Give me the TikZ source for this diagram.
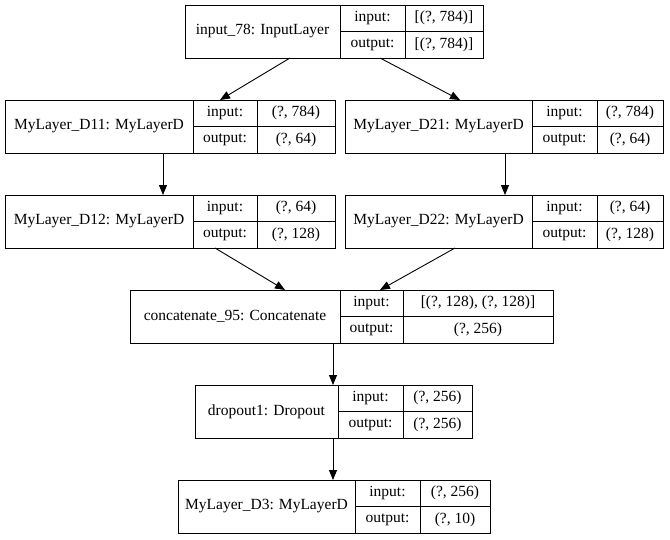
\documentclass[tikz,border=0pt]{standalone}
\usepackage{fontspec}
\setmainfont{Liberation Serif}
\usetikzlibrary{calc,arrows.meta}
\tikzset{
	box/.style={draw,inner sep=0pt,anchor=north west},
	txt/.style={font=\fontsize{15.5}{17}\selectfont,inner sep=0pt},
	edge/.style={-{Triangle[length=10pt,width=8pt]},black}
}
% \layer{name}{x0}{x1}{x2}{x3}{y}{label}{input}{output}
\newcommand{\layer}[9]{
	\node[box,minimum width=#5pt-#2pt,minimum height=53pt] (#1) at (#2,#6) {};
	\draw (#3,#6) -- (#3,#6+53);
	\draw (#4,#6) -- (#4,#6+53);
	\draw (#3,#6+26.5) -- (#5,#6+26.5);
	\node[txt] (#1-name) at ({(#2+#3)/2},#6+26.5) {#7};
	\node[txt] (#1-inl) at ({(#3+#4)/2},#6+13) {input:};
	\node[txt] (#1-outl) at ({(#3+#4)/2},#6+40) {output:};
	\node[txt] (#1-in) at ({(#4+#5)/2},#6+13) {#8};
	\node[txt] (#1-out) at ({(#4+#5)/2},#6+40) {#9};
}
\begin{document}
\begin{tikzpicture}[x=1pt,y=-1pt,line width=0.9pt]
	\useasboundingbox (0,0) rectangle (670,539);
	% Layers
	\layer{inp}{185}{340}{405}{483}{5}{input\_78: InputLayer}{[(?, 784)]}{[(?, 784)]}
	\layer{d11}{5}{193}{257}{335}{100}{MyLayer\_D11: MyLayerD}{(?, 784)}{(?, 64)}
	\layer{d21}{345}{532}{597}{663}{100}{MyLayer\_D21: MyLayerD}{(?, 784)}{(?, 64)}
	\layer{d12}{5}{193}{257}{335}{195}{MyLayer\_D12: MyLayerD}{(?, 64)}{(?, 128)}
	\layer{d22}{345}{532}{597}{663}{195}{MyLayer\_D22: MyLayerD}{(?, 64)}{(?, 128)}
	\layer{cat}{130}{340}{403}{553}{290}{concatenate\_95: Concatenate}{[(?, 128), (?, 128)]}{(?, 256)}
	\layer{drop}{195}{338}{403}{472}{385}{dropout1: Dropout}{(?, 256)}{(?, 256)}
	\layer{d3}{178}{355}{420}{490}{480}{MyLayer\_D3: MyLayerD}{(?, 256)}{(?, 10)}

	% Connectors
	\coordinate (a1) at (290,58);
	\coordinate (a2) at (380,58);
	\coordinate (b1) at (215,248);
	\coordinate (b2) at (455,248);
	\draw[edge] (a1) -- (220,100);
	\draw[edge] (a2) -- (460,100);
	\draw[edge] (163,153) -- (163,195);
	\draw[edge] (505,153) -- (505,195);
	\draw[edge] (b1) -- (285,290);
	\draw[edge] (b2) -- (380,290);
	\draw[edge] (333,343) -- (333,385);
	\draw[edge] (333,438) -- (333,480);
\end{tikzpicture}
\end{document}
